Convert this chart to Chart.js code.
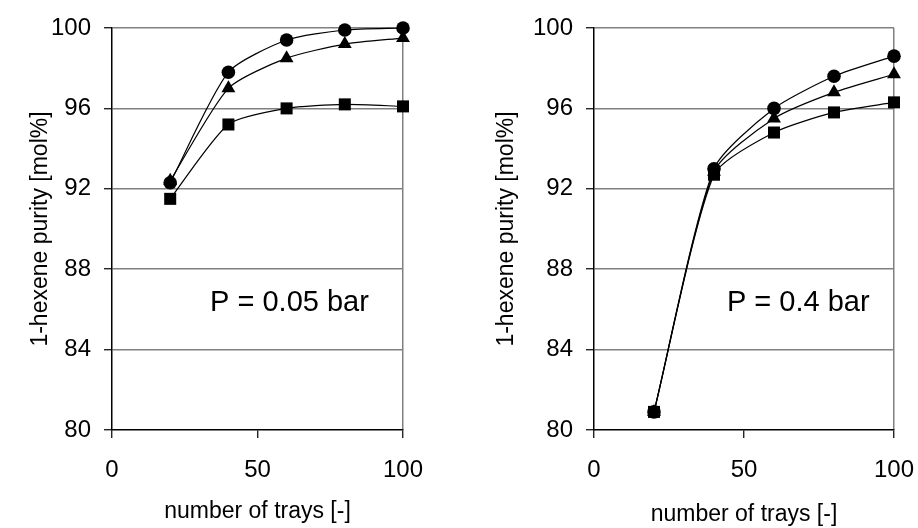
<!DOCTYPE html>
<html>
<head>
<meta charset="utf-8">
<script src="https://cdn.jsdelivr.net/npm/chart.js@4.4.1/dist/chart.umd.min.js"></script>
<style>
  html, body { margin: 0; padding: 0; background: #fff; }
  .wrap { display: flex; width: 918px; height: 528px; }
  .box { position: relative; width: 459px; height: 528px; }
</style>
</head>
<body>
<div class="wrap">
  <div class="box"><canvas id="chartLow"></canvas></div>
  <div class="box"><canvas id="chartHigh"></canvas></div>
</div>
<script>
// number of trays
const trays = [20, 40, 60, 80, 100];

// P = 0.05 bar
const lowCircle   = [92.3, 97.8, 99.4, 99.9, 100.0];
const lowTriangle = [92.4, 97.0, 98.5, 99.2, 99.5];
const lowSquare   = [91.5, 95.2, 96.0, 96.2, 96.1];

// P = 0.4 bar
const highCircle   = [80.9, 93.0, 96.0, 97.6, 98.6];
const highTriangle = [80.9, 92.85, 95.5, 96.8, 97.7];
const highSquare   = [80.9, 92.7, 94.8, 95.8, 96.3];

const yTickValues = [80, 84, 88, 92, 96, 100];
const xTickValues = [0, 50, 100];

const FONT = '"Liberation Sans", Arial, sans-serif';
const GRID = '#808080';

// 圧力ラベル
const pressureLabel = {
  id: 'pressureLabel',
  afterDatasetsDraw(chart, args, opts) {
    const { ctx, scales } = chart;
    ctx.save();
    ctx.font = '29px ' + FONT;
    ctx.fillStyle = '#000';
    ctx.textAlign = 'left';
    ctx.textBaseline = 'middle';
    ctx.fillText(opts.text, scales.x.getPixelForValue(opts.x), scales.y.getPixelForValue(opts.y));
    ctx.restore();
  }
};

function toPoints(values) {
  return trays.map((t, i) => ({ x: t, y: values[i] }));
}

function series(values, style, radius) {
  return {
    data: toPoints(values),
    showLine: true,
    borderColor: '#000',
    borderWidth: 1.2,
    backgroundColor: '#000',
    pointBackgroundColor: '#000',
    pointBorderColor: '#000',
    pointBorderWidth: 0,
    pointStyle: style,
    pointRadius: radius,
    tension: 0.22,
    clip: false
  };
}

function makeChart(id, sq, tri, circ, cfg) {
  new Chart(document.getElementById(id), {
    type: 'scatter',
    data: {
      datasets: [
        series(sq, 'rect', 8.5),
        series(tri, 'triangle', 8),
        series(circ, 'circle', 6.8)
      ]
    },
    options: {
      responsive: true,
      maintainAspectRatio: false,
      animation: false,
      events: [],
      layout: { padding: { top: 28, right: cfg.padRight, bottom: 0, left: 0 } },
      plugins: {
        legend: { display: false },
        tooltip: { enabled: false },
        pressureLabel: { text: cfg.label, x: cfg.labelX, y: 86.3 }
      },
      scales: {
        x: {
          type: 'linear',
          min: 0, max: 100,
          afterBuildTicks: s => { s.ticks = xTickValues.map(v => ({ value: v })); },
          afterFit: s => { s.height = 98; s.paddingLeft = 0; s.paddingRight = 0; },
          ticks: { font: { family: FONT, size: 24 }, color: '#000', padding: 18, maxRotation: 0 },
          grid: {
            color: c => (c.tick && c.tick.value === 100) ? GRID : 'rgba(0,0,0,0)',
            tickColor: '#000',
            tickLength: 8,
            lineWidth: 1.5,
            tickWidth: 1.2
          },
          border: { color: '#000', width: 1.5 },
          title: {
            display: true,
            text: 'number of trays [-]',
            font: { family: FONT, size: 23 },
            color: '#000',
            padding: { top: 0, bottom: cfg.xTitlePad }
          }
        },
        y: {
          type: 'linear',
          min: 80, max: 100,
          afterBuildTicks: s => { s.ticks = yTickValues.map(v => ({ value: v })); },
          afterFit: s => { s.width = cfg.yWidth; },
          ticks: { font: { family: FONT, size: 24 }, color: '#000', padding: 13 },
          grid: {
            color: c => (c.tick && c.tick.value === 80) ? 'rgba(0,0,0,0)' : GRID,
            tickColor: '#000',
            tickLength: 8,
            lineWidth: 1.5,
            tickWidth: 1.2
          },
          border: { color: '#000', width: 1.5 },
          title: {
            display: true,
            text: '1-hexene purity [mol%]',
            font: { family: FONT, size: 23 },
            color: '#000',
            padding: { top: cfg.yTitlePad, bottom: 0 }
          }
        }
      }
    },
    plugins: [pressureLabel]
  });
}

makeChart('chartLow', lowSquare, lowTriangle, lowCircle,
  { padRight: 56, yWidth: 112, yTitlePad: 27, xTitlePad: 3, label: 'P = 0.05 bar', labelX: 33.7 });
makeChart('chartHigh', highSquare, highTriangle, highCircle,
  { padRight: 24, yWidth: 135, yTitlePad: 34, xTitlePad: 0, label: 'P = 0.4 bar', labelX: 44.3 });
</script>
</body>
</html>
